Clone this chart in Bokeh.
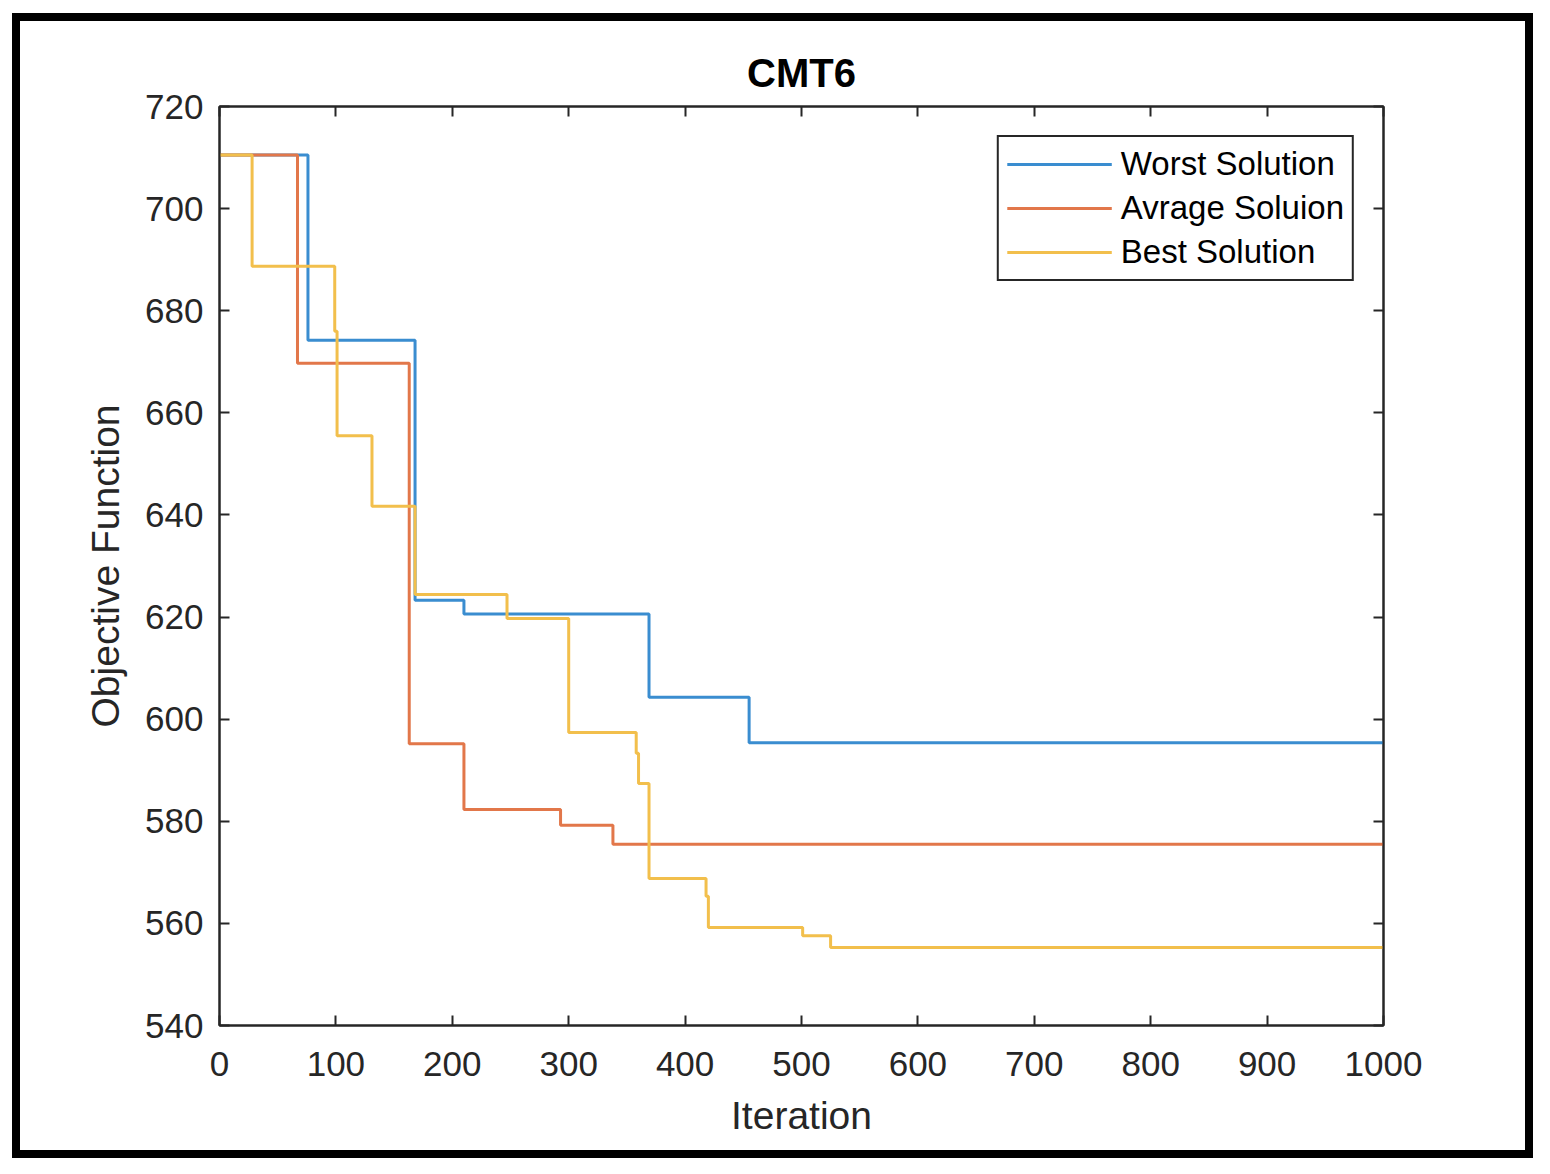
from bokeh.plotting import figure
from bokeh.models import LinearAxis, FixedTicker, Legend, LegendItem
from bokeh.embed import file_html
from bokeh.resources import INLINE

# ---- data ----
worst_x = [0, 76, 168, 210, 369, 455, 1000]
worst_y = [710.5, 674.2, 623.3, 620.6, 604.3, 595.4, 595.4]

avg_x = [0, 67, 163, 210, 293, 338, 1000]
avg_y = [710.5, 669.7, 595.2, 582.3, 579.2, 575.5, 575.5]

best_x = [0, 28, 99, 101, 131, 168, 247, 300, 358, 360, 369, 418, 420, 501, 525, 1000]
best_y = [710.5, 688.7, 676.0, 655.5, 641.7, 624.4, 619.7, 597.4, 593.3, 587.4,
          568.8, 565.3, 559.2, 557.6, 555.3, 555.3]

x_ticks = [0, 100, 200, 300, 400, 500, 600, 700, 800, 900, 1000]
y_ticks = [540, 560, 580, 600, 620, 640, 660, 680, 700, 720]

labels = ["Worst Solution", "Avrage Soluion", "Best Solution"]
colors = ["#3A8DD0", "#E2774A", "#F2BF4C"]

FONT = "Liberation Sans"
AX = "#262626"

p = figure(width=1521, height=1145, output_backend="svg", toolbar_location=None,
           x_range=(0, 1000), y_range=(540, 720),
           min_border_left=199, min_border_right=158, min_border_top=85, min_border_bottom=141,
           title="CMT6")
p.styles = {"border": "8px solid black", "margin-left": "12px", "margin-top": "13px"}

p.title.text_font = FONT
p.title.text_font_size = "40px"
p.title.text_font_style = "bold"
p.title.text_color = "#000000"
p.title.align = "center"
p.title.standoff = 24

p.grid.visible = False
p.outline_line_color = AX
p.outline_line_width = 2

for ax in [p.xaxis[0], p.yaxis[0]]:
    ax.major_label_text_font = FONT
    ax.major_label_text_font_size = "35px"
    ax.major_label_text_color = AX
    ax.axis_label_text_font = FONT
    ax.axis_label_text_font_size = "39px"
    ax.axis_label_text_font_style = "normal"
    ax.axis_label_text_color = AX
    ax.axis_line_color = AX
    ax.axis_line_width = 2
    ax.major_tick_line_color = AX
    ax.major_tick_line_width = 2
    ax.major_tick_in = 10
    ax.major_tick_out = 0
    ax.minor_tick_line_color = None

p.xaxis[0].ticker = FixedTicker(ticks=x_ticks)
p.yaxis[0].ticker = FixedTicker(ticks=y_ticks)
p.xaxis[0].axis_label = "Iteration"
p.yaxis[0].axis_label = "Objective Function"
p.xaxis[0].major_label_standoff = 26
p.yaxis[0].major_label_standoff = 16
p.xaxis[0].axis_label_standoff = 15
p.yaxis[0].axis_label_standoff = 15

for loc, tk in [("above", x_ticks), ("right", y_ticks)]:
    ax = LinearAxis(ticker=FixedTicker(ticks=tk))
    ax.major_label_text_font_size = "0px"
    ax.major_label_text_color = None
    ax.axis_line_color = AX
    ax.axis_line_width = 2
    ax.major_tick_line_color = AX
    ax.major_tick_line_width = 2
    ax.major_tick_in = 10
    ax.major_tick_out = 0
    ax.minor_tick_line_color = None
    p.add_layout(ax, loc)

renderers = []
for xs, ys, c in [(worst_x, worst_y, colors[0]), (avg_x, avg_y, colors[1]), (best_x, best_y, colors[2])]:
    r = p.step(xs, ys, mode="after", line_color=c, line_width=3)
    renderers.append(r)

legend = Legend(items=[LegendItem(label=l, renderers=[r]) for l, r in zip(labels, renderers)])
legend.location = "top_right"
legend.margin = 29
legend.label_text_font = FONT
legend.label_text_font_size = "33px"
legend.label_text_color = "#000000"
legend.glyph_width = 105
legend.glyph_height = 34
legend.label_height = 34
legend.label_standoff = 9
legend.spacing = 6
legend.padding = 8
legend.border_line_color = AX
legend.border_line_width = 2
legend.border_line_alpha = 1
legend.background_fill_alpha = 1
p.add_layout(legend, "center")

open("out.html", "w").write(file_html(p, INLINE))
